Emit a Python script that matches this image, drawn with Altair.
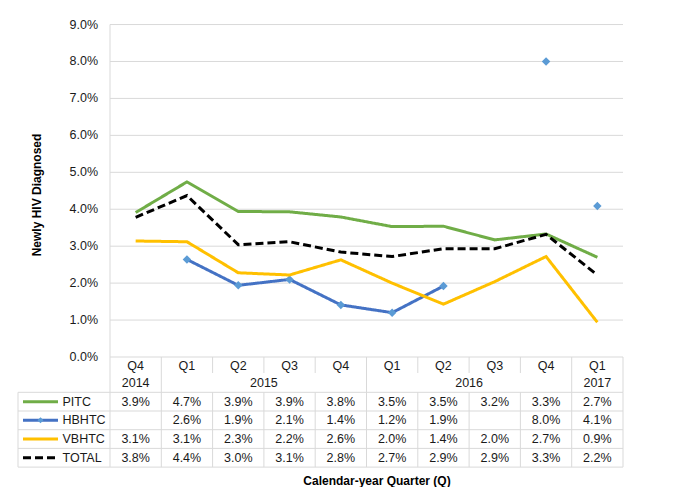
import altair as alt
import pandas as pd

# ---------------- data ----------------
quarters = ["Q4", "Q1", "Q2", "Q3", "Q4", "Q1", "Q2", "Q3", "Q4", "Q1"]
years = ["2014", "2015", "2016", "2017"]
year_start = [0, 1, 5, 9]
year_end = [1, 5, 9, 10]
series_names = ["PITC", "HBHTC", "VBHTC", "TOTAL"]
pitc = [3.91, 4.74, 3.94, 3.93, 3.79, 3.53, 3.54, 3.17, 3.33, 2.70]
hbhtc = [None, 2.64, 1.94, 2.10, 1.41, 1.20, 1.92, None, 8.00, 4.09]
vbhtc = [3.14, 3.12, 2.28, 2.22, 2.63, 2.00, 1.43, 2.04, 2.72, 0.94]
total = [3.78, 4.37, 3.04, 3.12, 2.84, 2.72, 2.93, 2.93, 3.32, 2.22]
# HBHTC points joined by the line (the last two are shown as markers only)
hbhtc_joined = [False, True, True, True, True, True, True, False, False, False]
y_ticks = [0, 1, 2, 3, 4, 5, 6, 7, 8, 9]

# ---------------- styles ----------------
line_colors = {"PITC": "#70ad47", "HBHTC": "#4472c4", "VBHTC": "#ffc000", "TOTAL": "#000000"}
marker_color = "#5b9bd5"
grid_color = "#d9d9d9"
text_color = "#1a1a1a"
FONT = "Liberation Sans, Arial, Helvetica, sans-serif"

# ---------------- layout (page pixels -> data units) ----------------
W, H = 664, 479
PX_LEFT, PX_CAT = 110.0, 51.3
PX_ZERO, PX_PCT = 357.0, 36.94


def xv(px):
    return (px - PX_LEFT) / PX_CAT


def yv(py):
    return (PX_ZERO - py) / PX_PCT


xscale = alt.Scale(domain=[xv(8), xv(8 + W)], nice=False, zero=False)
yscale = alt.Scale(domain=[yv(8 + H), yv(8)], nice=False, zero=False)


def X(f):
    return alt.X(f, type="quantitative", scale=xscale, axis=None)


def Y(f):
    return alt.Y(f, type="quantitative", scale=yscale, axis=None)


n = len(quarters)
series_vals = {"PITC": pitc, "HBHTC": hbhtc, "VBHTC": vbhtc, "TOTAL": total}
joined = {"PITC": [True] * n, "HBHTC": hbhtc_joined, "VBHTC": [True] * n, "TOTAL": [True] * n}

layers = []

# gridlines + axis lines
grid_df = pd.DataFrame({"y": y_ticks, "x0": [0] * len(y_ticks), "x1": [n] * len(y_ticks)})
layers.append(alt.Chart(grid_df).mark_rule(color=grid_color, strokeWidth=1).encode(
    x=X("x0"), x2="x1", y=Y("y")))
vaxis_df = pd.DataFrame({"x": [0], "y0": [y_ticks[0]], "y1": [y_ticks[-1]]})
layers.append(alt.Chart(vaxis_df).mark_rule(color=grid_color, strokeWidth=1).encode(
    x=X("x"), y=Y("y0"), y2="y1"))

# y tick labels
tick_df = pd.DataFrame({"y": y_ticks, "x": [xv(98)] * len(y_ticks),
                        "label": [f"{v:.1f}%" for v in y_ticks]})
layers.append(alt.Chart(tick_df).mark_text(align="right", baseline="middle", fontSize=12.5,
                                           font=FONT, color=text_color).encode(
    x=X("x"), y=Y("y"), text="label:N"))

# y title
layers.append(alt.Chart(pd.DataFrame({"x": [xv(37)], "y": [yv(195)], "t": ["Newly HIV Diagnosed"]}))
              .mark_text(angle=270, align="center", baseline="middle", fontSize=12,
                         fontWeight="bold", font=FONT, color="#000000")
              .encode(x=X("x"), y=Y("y"), text="t:N"))

# x title
layers.append(alt.Chart(pd.DataFrame({"x": [xv(377)], "y": [yv(481)], "t": ["Calendar-year Quarter (Q)"]}))
              .mark_text(align="center", baseline="middle", fontSize=12,
                         fontWeight="bold", font=FONT, color="#000000")
              .encode(x=X("x"), y=Y("y"), text="t:N"))

# category axis separators
TABLE_TOP, ROW_H = 392.3, 18.7
year_bounds = set(year_start) | set(year_end)
sep_rows = []
for k in range(n + 1):
    bottom = TABLE_TOP if k in year_bounds else 373.0
    sep_rows.append({"x": k, "y0": yv(PX_ZERO), "y1": yv(bottom)})
    sep_rows.append({"x": k, "y0": yv(TABLE_TOP), "y1": yv(TABLE_TOP + 4 * ROW_H)})
sep_rows.append({"x": xv(18), "y0": yv(TABLE_TOP), "y1": yv(TABLE_TOP + 4 * ROW_H)})
layers.append(alt.Chart(pd.DataFrame(sep_rows)).mark_rule(color=grid_color, strokeWidth=1).encode(
    x=X("x"), y=Y("y0"), y2="y1"))

# table horizontal lines
hl = pd.DataFrame({"y": [yv(TABLE_TOP + i * ROW_H) for i in range(5)],
                   "x0": [xv(18)] * 5, "x1": [n] * 5})
layers.append(alt.Chart(hl).mark_rule(color=grid_color, strokeWidth=1).encode(
    x=X("x0"), x2="x1", y=Y("y")))

# quarter and year labels
q_df = pd.DataFrame({"x": [i + 0.5 for i in range(n)], "y": [yv(365.5)] * n, "t": quarters})
layers.append(alt.Chart(q_df).mark_text(align="center", baseline="middle", fontSize=12.5,
                                        font=FONT, color=text_color).encode(
    x=X("x"), y=Y("y"), text="t:N"))
y_df = pd.DataFrame({"x": [(a + b) / 2 for a, b in zip(year_start, year_end)],
                     "y": [yv(383)] * len(years), "t": years})
layers.append(alt.Chart(y_df).mark_text(align="center", baseline="middle", fontSize=12.5,
                                        font=FONT, color=text_color).encode(
    x=X("x"), y=Y("y"), text="t:N"))

# table values + legend column
cell_rows, leg_rows = [], []
for r, s in enumerate(series_names):
    cy = yv(TABLE_TOP + (r + 0.5) * ROW_H)
    leg_rows.append({"series": s, "y": cy, "x0": xv(23), "x1": xv(58),
                     "xm": xv(40.5), "xl": xv(62.5)})
    for i, v in enumerate(series_vals[s]):
        if v is not None:
            cell_rows.append({"x": i + 0.5, "y": cy, "t": f"{v:.1f}%"})
layers.append(alt.Chart(pd.DataFrame(cell_rows)).mark_text(
    align="center", baseline="middle", fontSize=12.5, font=FONT, color=text_color).encode(
    x=X("x"), y=Y("y"), text="t:N"))
leg_df = pd.DataFrame(leg_rows)
layers.append(alt.Chart(leg_df).mark_text(
    align="left", baseline="middle", fontSize=12.5, font=FONT, color=text_color).encode(
    x=X("xl"), y=Y("y"), text="series:N"))
for s in series_names:
    dash = [8, 4] if s == "TOTAL" else [1, 0]
    layers.append(alt.Chart(leg_df[leg_df.series == s]).mark_rule(
        color=line_colors[s], strokeWidth=3, strokeDash=dash, strokeCap="butt").encode(
        x=X("x0"), x2="x1", y=Y("y")))
layers.append(alt.Chart(leg_df[leg_df.series == "HBHTC"]).mark_point(
    shape="diamond", filled=True, size=36, color=marker_color, opacity=1).encode(
    x=X("xm"), y=Y("y")))

# series lines
for s in series_names:
    line_rows, pt_rows = [], []
    seg = 0
    prev_joined = False
    for i, v in enumerate(series_vals[s]):
        if v is None:
            prev_joined = False
            continue
        pt_rows.append({"x": i + 0.5, "v": v})
        if joined[s][i]:
            if not prev_joined:
                seg += 1
            line_rows.append({"x": i + 0.5, "v": v, "seg": seg})
            prev_joined = True
        else:
            prev_joined = False
    dash = [8, 4] if s == "TOTAL" else [1, 0]
    layers.append(alt.Chart(pd.DataFrame(line_rows)).mark_line(
        color=line_colors[s], strokeWidth=3, strokeDash=dash, strokeCap="butt",
        strokeJoin="miter").encode(
        x=X("x"), y=Y("v"), detail="seg:N"))
    if s == "HBHTC":
        layers.append(alt.Chart(pd.DataFrame(pt_rows)).mark_point(
            shape="diamond", filled=True, size=72, color=marker_color, opacity=1).encode(
            x=X("x"), y=Y("v")))

chart = alt.layer(*layers).properties(
    width=W, height=H, padding=0, autosize="none", background="white"
).configure_view(strokeWidth=0)

chart.save("out.html", embed_options={"renderer": "svg", "actions": False})
